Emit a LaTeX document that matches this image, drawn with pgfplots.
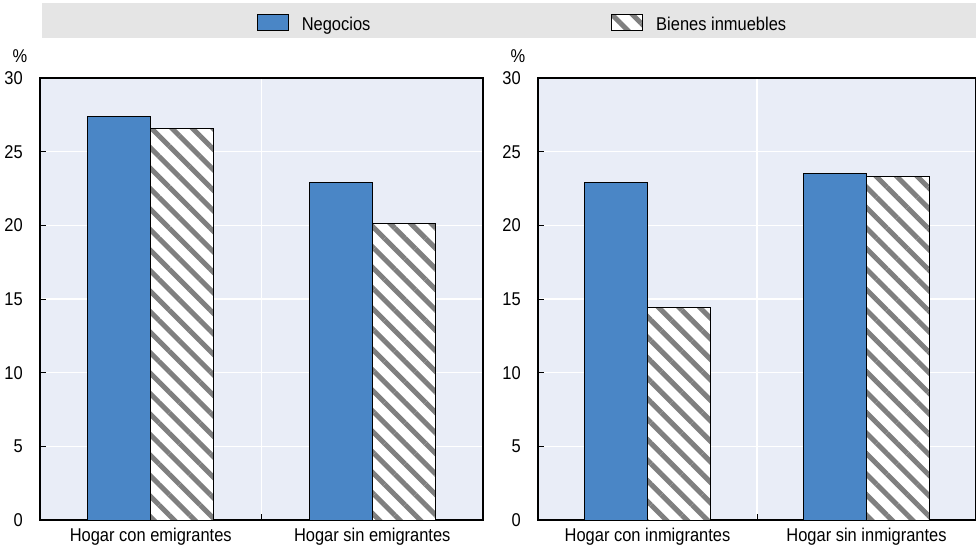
\documentclass[border=0pt]{standalone}
\usepackage{fontspec}
\setmainfont[FakeStretch=0.89]{Liberation Sans}
\usepackage{pgfplots}
\pgfplotsset{compat=1.18}
\usetikzlibrary{patterns.meta}
\definecolor{barblue}{HTML}{4A86C6}
\definecolor{bggray}{HTML}{E9EDF7}
\definecolor{bandgray}{HTML}{E5E5E5}
\definecolor{stripegray}{HTML}{7F7F7F}
\pgfplotsset{
  myaxis/.style={
    scale only axis, height=442pt,
    ybar=0pt, bar width=63pt,
    xmin=-0.5, xmax=1.5, ymin=0, ymax=30,
    xtick={0.5}, xticklabels={},
    ytick={0,5,...,30},
    grid=major, grid style={white, line width=1.5pt},
    tick align=inside, major tick length=6pt,
    tick style={black, line width=1pt},
    xtick pos=bottom, ytick pos=left,
    axis background/.style={fill=bggray},
    axis line style={black, line width=1.3pt},
    /pgf/number format/assume math mode=true,
    tick label style={font=\fontsize{18.5}{22}\selectfont},
    yticklabel style={inner sep=0pt, xshift=-17pt},
    xticklabel style={inner sep=0pt, yshift=-8pt},
    extra x ticks={0,1},
    extra x tick style={grid=none, major tick length=0pt},
    ylabel={\%},
    every axis y label/.style={at={(axis description cs:0,1)}, anchor=center, xshift=-20pt, yshift=22pt, font=\fontsize{18.5}{22}\selectfont},
  },
  blue bars/.style={fill=barblue, draw=black, line width=0.8pt},
  hatch bars/.style={fill=white, draw=black, line width=0.8pt,
    postaction={pattern={Lines[angle=-45,distance=14.5pt,line width=5pt]}, pattern color=stripegray}},
}
\begin{document}
\fontsize{18.5}{22}\selectfont
\begin{tikzpicture}
\useasboundingbox (0pt,0pt) rectangle (976pt,-551pt);
\fill[bandgray] (42pt,-3pt) rectangle (976pt,-38pt);
\begin{axis}[myaxis, width=443pt, at={(40pt,-520pt)}, anchor=south west,
  extra x tick labels={Hogar con emigrantes, Hogar sin emigrantes},
  legend columns=2,
  legend image code/.code={\draw[#1] (0pt,-5.65pt) rectangle (31pt,10.35pt);},
  legend style={at={(axis description cs:0.4898,1.123)}, anchor=west,
    draw=none, fill=none, inner sep=0pt, outer sep=0pt,
    font=\fontsize{18.5}{22}\selectfont,
    nodes={inner sep=0pt},
    /tikz/every odd column/.append style={column sep=13pt},
    /tikz/every even column/.append style={column sep=241pt}},
  legend cell align=left]
\addplot[blue bars] coordinates {(0,27.4) (1,22.9)};
\addplot[hatch bars] coordinates {(0,26.6) (1,20.1)};
\legend{Negocios, Bienes inmuebles}
\end{axis}
\begin{axis}[myaxis, width=438pt, at={(538pt,-520pt)}, anchor=south west,
  extra x tick labels={Hogar con inmigrantes, Hogar sin inmigrantes}]
\addplot[blue bars] coordinates {(0,22.9) (1,23.5)};
\addplot[hatch bars] coordinates {(0,14.4) (1,23.3)};
\end{axis}
\end{tikzpicture}
\end{document}
